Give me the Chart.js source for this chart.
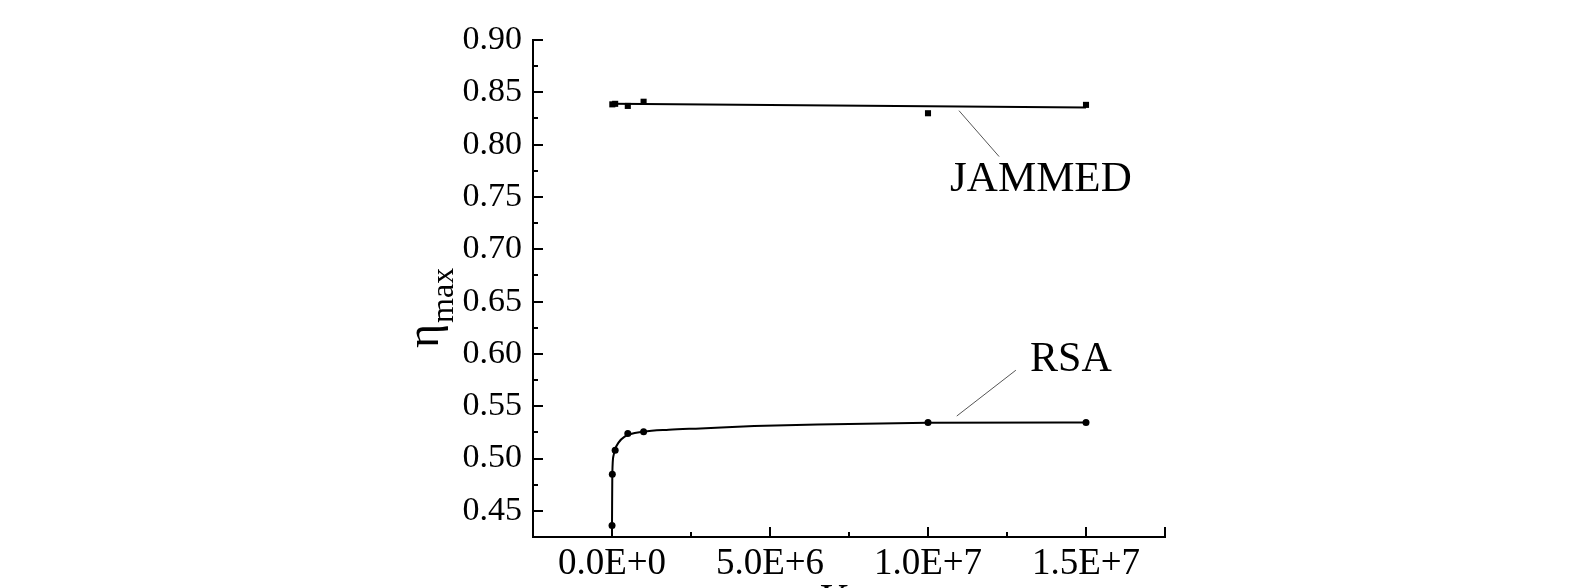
<!DOCTYPE html>
<html>
<head>
<meta charset="utf-8">
<script src="https://cdn.jsdelivr.net/npm/chart.js@4.4.0/dist/chart.umd.min.js"></script>
<style>
  html, body { margin: 0; padding: 0; background: #fff; overflow: hidden; }
</style>
</head>
<body>
<canvas id="eta-chart" width="1583" height="588"></canvas>
<script>
// RSA and jammed packing fractions vs K
const rsaK = [1e3, 1e4, 1e5, 5e5, 1e6, 1e7, 1.5e7];
const rsaEta = [0.436, 0.485, 0.508, 0.524, 0.5257, 0.5345, 0.5345];
const jamK = [1e4, 1e5, 5e5, 1e6, 1e7, 1.5e7];
const jamEta = [0.8385, 0.839, 0.837, 0.841, 0.830, 0.838];

// fitted curves
const rsaFitK = [0, 1e4, 5e4, 1e5, 2e5, 4e5, 1e6, 1.8e6, 2.8e6, 4.5e6, 6.5e6, 1e7, 1.5e7];
const rsaFitEta = [0.436, 0.485, 0.503, 0.509, 0.515, 0.521, 0.5257, 0.5276, 0.5288, 0.531, 0.5326, 0.5342, 0.5345];
const jamFitK = [0, 1.5e7];
const jamFitEta = [0.839, 0.8355];

// curve labels: [text, textK, textEta, leaderFromK, leaderFromEta, leaderToK, leaderToEta]
const curveLabels = [
  ['JAMMED', 1.07e7, 0.7553, 1.098e7, 0.8325, 1.225e7, 0.7886],
  ['RSA', 1.323e7, 0.5835, 1.278e7, 0.5844, 1.091e7, 0.5406]
];

const serif = '"Liberation Serif", "Times New Roman", serif';
const pts = (xs, ys) => xs.map((x, i) => ({ x: x, y: ys[i] }));

function sci(v) {
  if (v === 0) return '0.0E+0';
  const e = Math.floor(Math.log10(Math.abs(v)));
  return (v / Math.pow(10, e)).toFixed(1) + 'E+' + e;
}

const decorations = {
  id: 'decorations',
  afterDraw(chart) {
    const ctx = chart.ctx;
    const xs = chart.scales.x, ys = chart.scales.y;
    const area = chart.chartArea;
    ctx.save();
    ctx.strokeStyle = '#000';
    ctx.lineWidth = 2;
    // inward tick marks
    xs.ticks.forEach(t => {
      if (t.value <= xs.min) return;
      const major = t.label !== '' || t.value >= xs.max;
      const px = Math.round(xs.getPixelForValue(t.value));
      ctx.beginPath();
      ctx.moveTo(px, area.bottom);
      ctx.lineTo(px, area.bottom - (major ? 10 : 5));
      ctx.stroke();
    });
    ys.ticks.forEach(t => {
      if (t.value <= ys.min + 1e-9) return;
      const major = t.label !== '';
      const py = Math.round(ys.getPixelForValue(t.value));
      ctx.beginPath();
      ctx.moveTo(area.left, py);
      ctx.lineTo(area.left + (major ? 10 : 5), py);
      ctx.stroke();
    });

    // curve labels with leader lines
    ctx.fillStyle = '#000';
    ctx.textAlign = 'left';
    ctx.textBaseline = 'alphabetic';
    curveLabels.forEach(l => {
      ctx.font = (l[0] === 'JAMMED' ? '43px ' : '42px ') + serif;
      ctx.fillText(l[0], xs.getPixelForValue(l[1]), ys.getPixelForValue(l[2]));
      ctx.strokeStyle = '#555';
      ctx.lineWidth = 1;
      ctx.beginPath();
      ctx.moveTo(xs.getPixelForValue(l[3]), ys.getPixelForValue(l[4]));
      ctx.lineTo(xs.getPixelForValue(l[5]), ys.getPixelForValue(l[6]));
      ctx.stroke();
    });

    // y title: eta with subscript "max"
    ctx.save();
    ctx.translate(area.left - 95, area.top + 308);
    ctx.rotate(-Math.PI / 2);
    ctx.font = '46px ' + serif;
    ctx.fillText('η', 0, 0);
    const w = ctx.measureText('η').width;
    ctx.font = '32px ' + serif;
    ctx.fillText('max', w + 1, 15);
    ctx.restore();

    // x title (mostly cut off by the bottom edge)
    ctx.font = '42px ' + serif;
    ctx.textAlign = 'center';
    ctx.fillText('K', (area.left + area.right) / 2 - 14, area.bottom + 76);
    ctx.restore();
  }
};

const ctx = document.getElementById('eta-chart').getContext('2d');
new Chart(ctx, {
  type: 'scatter',
  data: {
    datasets: [
      {
        label: 'RSA fit',
        data: pts(rsaFitK, rsaFitEta),
        showLine: true,
        borderColor: '#000',
        borderWidth: 2,
        pointRadius: 0,
        cubicInterpolationMode: 'monotone'
      },
      {
        label: 'Jammed fit',
        data: pts(jamFitK, jamFitEta),
        showLine: true,
        borderColor: '#000',
        borderWidth: 2,
        pointRadius: 0
      },
      {
        label: 'RSA',
        data: pts(rsaK, rsaEta),
        pointStyle: 'circle',
        pointRadius: 3.5,
        backgroundColor: '#000',
        borderColor: '#000',
        borderWidth: 0
      },
      {
        label: 'JAMMED',
        data: pts(jamK, jamEta),
        pointStyle: 'rect',
        pointRadius: 4.3,
        backgroundColor: '#000',
        borderColor: '#000',
        borderWidth: 0
      }
    ]
  },
  options: {
    responsive: false,
    animation: false,
    layout: { padding: { left: 0, right: 418, top: 40, bottom: 0 } },
    plugins: {
      legend: { display: false },
      tooltip: { enabled: false }
    },
    scales: {
      x: {
        type: 'linear',
        min: -2.5e6,
        max: 1.75e7,
        afterFit: s => { s.height = 51; },
        grid: { display: false, drawTicks: false },
        border: { display: true, color: '#000', width: 2 },
        ticks: {
          stepSize: 2.5e6,
          autoSkip: false,
          maxRotation: 0,
          padding: 5,
          color: '#000',
          font: { family: serif, size: 37 },
          callback: v => (v >= 0 && Math.round(v / 2.5e6) % 2 === 0) ? sci(v) : ''
        }
      },
      y: {
        min: 0.425,
        max: 0.90,
        afterFit: s => { s.width = 533; },
        grid: { display: false, drawTicks: false },
        border: { display: true, color: '#000', width: 2 },
        ticks: {
          stepSize: 0.025,
          autoSkip: false,
          padding: 11,
          color: '#000',
          font: { family: serif, size: 34 },
          callback: v => (Math.round(v * 1000) % 50 === 0) ? v.toFixed(2) : ''
        }
      }
    }
  },
  plugins: [decorations]
});
</script>
</body>
</html>
